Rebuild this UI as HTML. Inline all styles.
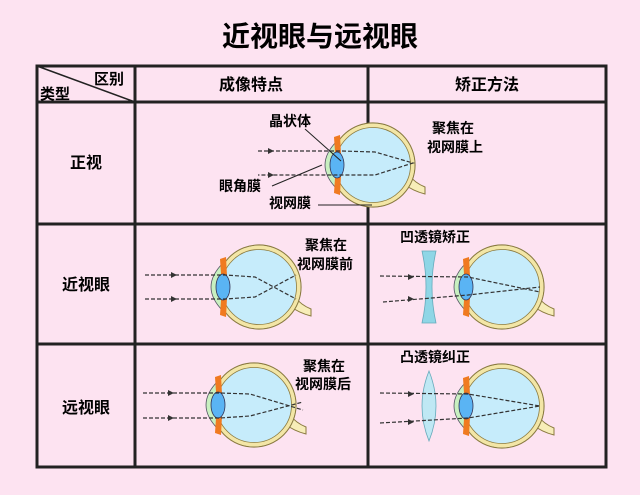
<!DOCTYPE html>
<html><head><meta charset="utf-8"><style>
body{margin:0;background:#fde3f1;}
svg{display:block;font-family:"Liberation Sans","Noto Sans CJK SC",sans-serif;font-weight:bold;}
</style></head><body>
<svg width="640" height="495" viewBox="0 0 640 495">
<defs>
<g id="eye">
 <path d="M36,10 Q42,18 52,22 L52,29 Q40,26 31,19Z" fill="#f7edb8" stroke="#8a7a40" stroke-width="1"/>
 <circle cx="0" cy="0" r="42" fill="#c6ecfb" stroke="#8a7a40" stroke-width="1.2"/>
 <circle cx="0" cy="0" r="39.5" fill="none" stroke="#f3e6a6" stroke-width="4"/>
 <circle cx="0" cy="0" r="37.5" fill="#c6ecfb" stroke="#8a7a40" stroke-width="0.8"/>
 <path d="M-36,-24 Q-60,0 -36,24 L-35,16 Q-50,0 -35,-16Z" fill="#c8f0c0" stroke="#556" stroke-width="0.8"/>
 <path d="M-39,-28 L-33,-30 L-32,-11 L-38,-13Z" fill="#f07a20"/>
 <path d="M-39,28 L-33,30 L-32,11 L-38,13Z" fill="#f07a20"/>
 <ellipse cx="-36" cy="0" rx="7" ry="13" fill="#5ab4f4" stroke="#335" stroke-width="0.8"/>
</g>
</defs>
<text x="320" y="46" font-size="28" text-anchor="middle" fill="#000">近视眼与远视眼</text>
<g stroke="#222" stroke-width="3" fill="none">
 <rect x="37" y="66" width="569" height="401"/>
 <line x1="37" y1="102" x2="606" y2="102"/>
 <line x1="37" y1="224" x2="606" y2="224"/>
 <line x1="37" y1="344" x2="606" y2="344"/>
 <line x1="135" y1="66" x2="135" y2="467"/>
 <line x1="368" y1="66" x2="368" y2="467"/>
</g>
<line x1="37" y1="66" x2="135" y2="102" stroke="#222" stroke-width="1.5"/>
<g font-size="15" fill="#000">
 <text x="94" y="84">区别</text>
 <text x="40" y="99">类型</text>
 <text x="251" y="90" text-anchor="middle" font-size="16">成像特点</text>
 <text x="487" y="90" text-anchor="middle" font-size="16">矫正方法</text>
 <text x="86" y="168" text-anchor="middle" font-size="16">正视</text>
 <text x="86" y="290" text-anchor="middle" font-size="16">近视眼</text>
 <text x="86" y="413" text-anchor="middle" font-size="16">远视眼</text>
 <text x="269" y="126" font-size="14">晶状体</text>
 <text x="219" y="191" font-size="14">眼角膜</text>
 <text x="269" y="208" font-size="14">视网膜</text>
 <text x="432" y="133" font-size="14">聚焦在</text>
 <text x="427" y="152" font-size="14">视网膜上</text>
 <text x="305" y="250" font-size="14">聚焦在</text>
 <text x="297" y="269" font-size="14">视网膜前</text>
 <text x="303" y="371" font-size="14">聚焦在</text>
 <text x="295" y="389" font-size="14">视网膜后</text>
 <text x="400" y="242" font-size="14">凹透镜矫正</text>
 <text x="400" y="362" font-size="14">凸透镜纠正</text>
</g>
<use href="#eye" x="373" y="165"/>
<use href="#eye" x="259" y="287"/>
<use href="#eye" x="254" y="405"/>
<use href="#eye" x="502" y="287"/>
<use href="#eye" x="502" y="406"/>
<path d="M422,251 L436,251 Q428,287 436,323 L422,323 Q430,287 422,251Z" fill="#8fd6e6" stroke="#6ab" stroke-width="0.8"/>
<path d="M429,371 Q443,406 429,441 Q415,406 429,371Z" fill="#bfe8f4" stroke="#6ab" stroke-width="0.8"/>
<g stroke="#333" stroke-width="1.2" stroke-dasharray="4,2" fill="none">
 <path d="M258,151 L341,151 L375,152 L413,163 L375,175 L341,175 L258,175"/>
 <path d="M145,275 L225,275 L255,277 L296,299"/>
 <path d="M145,299 L225,299 L255,297 L296,275"/>
 <path d="M143,393 L220,393 L250,394 L303,410"/>
 <path d="M143,418 L220,418 L250,416 L303,402"/>
 <path d="M380,276 L468,277 L540,292"/>
 <path d="M383,302 L468,295 L540,287"/>
 <path d="M380,393 L468,394 L540,406"/>
 <path d="M380,423 L468,418 L540,406"/>
</g>
<g fill="#333">
 <path d="M268,148 l6,3 l-6,3z"/><path d="M268,172 l6,3 l-6,3z"/>
 <path d="M171,272 l6,3 l-6,3z"/><path d="M171,296 l6,3 l-6,3z"/>
 <path d="M168,390 l6,3 l-6,3z"/><path d="M168,415 l6,3 l-6,3z"/>
 <path d="M408,274 l6,3 l-6,3z"/><path d="M408,296 l6,3 l-6,3z"/>
 <path d="M408,391 l6,3 l-6,3z"/><path d="M408,419 l6,3 l-6,3z"/>
</g>
<g stroke="#222" stroke-width="1" fill="none">
 <line x1="305" y1="129" x2="341" y2="161"/>
 <line x1="272" y1="186" x2="322" y2="165"/>
 <line x1="318" y1="205" x2="372" y2="205"/>
</g>
</svg>
</body></html>
